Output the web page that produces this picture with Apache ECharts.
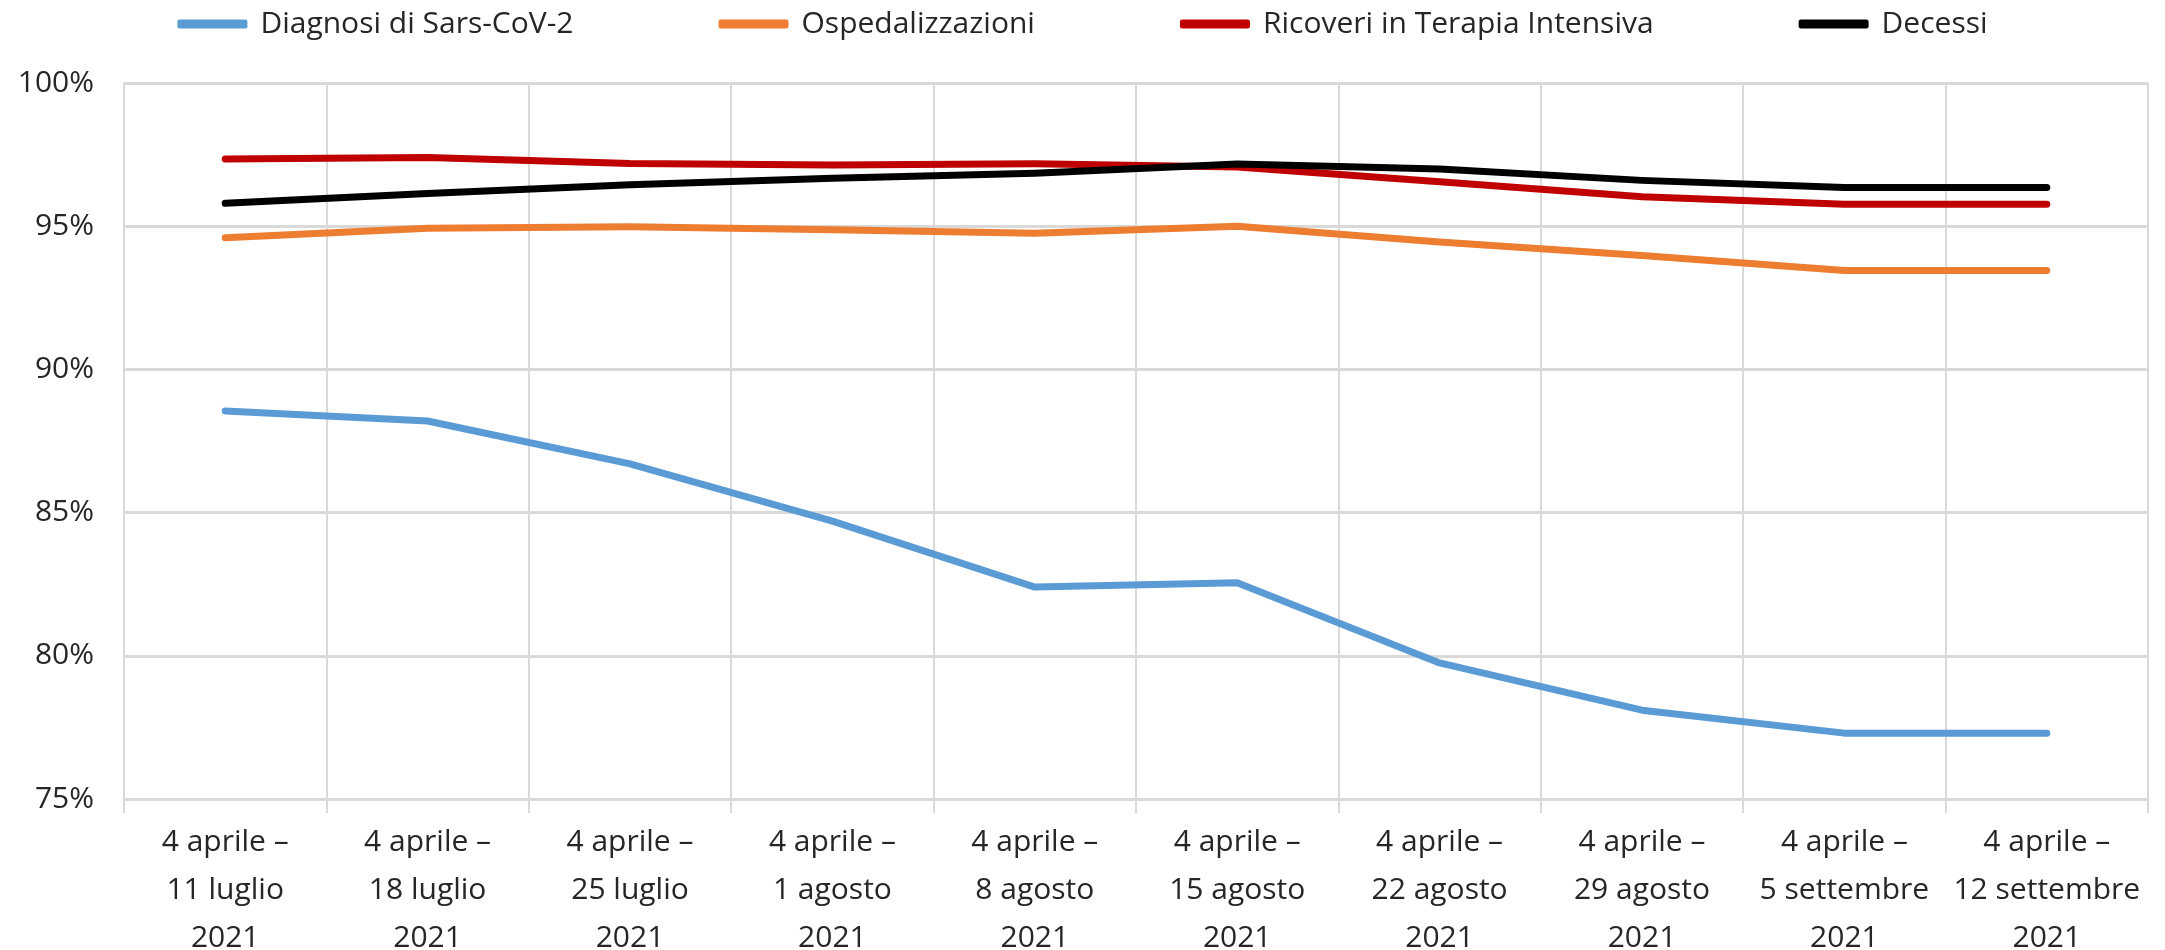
<!DOCTYPE html>
<html>
<head>
<meta charset="utf-8">
<script src="https://cdn.jsdelivr.net/npm/echarts@6/dist/echarts.min.js"></script>
<style>
  html, body { margin: 0; padding: 0; background: #fff; }
  #chart { width: 2165px; height: 950px; }
</style>
</head>
<body>
<div id="chart"></div>
<script>
// periodi (asse x)
var categories = [
  '4 aprile –\n11 luglio\n2021',
  '4 aprile –\n18 luglio\n2021',
  '4 aprile –\n25 luglio\n2021',
  '4 aprile –\n1 agosto\n2021',
  '4 aprile –\n8 agosto\n2021',
  '4 aprile –\n15 agosto\n2021',
  '4 aprile –\n22 agosto\n2021',
  '4 aprile –\n29 agosto\n2021',
  '4 aprile –\n5 settembre\n2021',
  '4 aprile –\n12 settembre\n2021'
];

var diagnosi = [88.55, 88.2, 86.7, 84.7, 82.4, 82.55, 79.75, 78.1, 77.3, 77.3];
var ospedalizzazioni = [94.6, 94.93, 94.98, 94.88, 94.75, 95.0, 94.45, 93.98, 93.45, 93.45];
var terapiaIntensiva = [97.35, 97.4, 97.19, 97.14, 97.18, 97.07, 96.55, 96.03, 95.77, 95.77];
var decessi = [95.8, 96.14, 96.45, 96.67, 96.85, 97.17, 97.0, 96.6, 96.35, 96.35];

var yTicks = { min: 75, max: 100, step: 5 };

var font = 'Open Sans';

function lineSerie(name, data, color) {
  return {
    name: name,
    type: 'line',
    data: data,
    symbol: 'none',
    lineStyle: { color: color, width: 7, cap: 'round', join: 'round' },
    itemStyle: { color: color }
  };
}

var chart = echarts.init(document.getElementById('chart'));
chart.setOption({
  animation: false,
  backgroundColor: '#fff',
  textStyle: { fontFamily: font },
  legend: {
    top: 4,
    left: 'center',
    itemWidth: 70,
    itemHeight: 9,
    itemGap: 145,
    icon: 'roundRect',
    textStyle: { fontSize: 30, color: '#262626', fontFamily: font, padding: [0, 0, 0, 8] },
    data: ['Diagnosi di Sars-CoV-2', 'Ospedalizzazioni', 'Ricoveri in Terapia Intensiva', 'Decessi']
  },
  grid: {
    left: 124,
    right: 17,
    top: 83,
    bottom: 151,
    outerBoundsMode: 'none'
  },
  xAxis: {
    type: 'category',
    data: categories,
    boundaryGap: true,
    axisLine: { show: true, lineStyle: { color: '#d9d9d9', width: 3 } },
    axisTick: { show: true, length: 14, lineStyle: { color: '#d9d9d9', width: 2 } },
    splitLine: { show: true, lineStyle: { color: '#d9d9d9', width: 2 } },
    axisLabel: {
      fontSize: 30,
      color: '#262626',
      lineHeight: 48,
      margin: 19,
      interval: 0
    }
  },
  yAxis: {
    type: 'value',
    min: yTicks.min,
    max: yTicks.max,
    interval: yTicks.step,
    axisLine: { show: true, lineStyle: { color: '#d9d9d9', width: 2 } },
    axisTick: { show: false },
    splitLine: { lineStyle: { color: '#d9d9d9', width: 3 } },
    axisLabel: {
      fontSize: 30,
      color: '#262626',
      margin: 30,
      formatter: '{value}%'
    }
  },
  series: [
    lineSerie('Diagnosi di Sars-CoV-2', diagnosi, '#5b9bd5'),
    lineSerie('Ospedalizzazioni', ospedalizzazioni, '#ed7d31'),
    lineSerie('Ricoveri in Terapia Intensiva', terapiaIntensiva, '#c00000'),
    lineSerie('Decessi', decessi, '#000000')
  ]
});
</script>
</body>
</html>
